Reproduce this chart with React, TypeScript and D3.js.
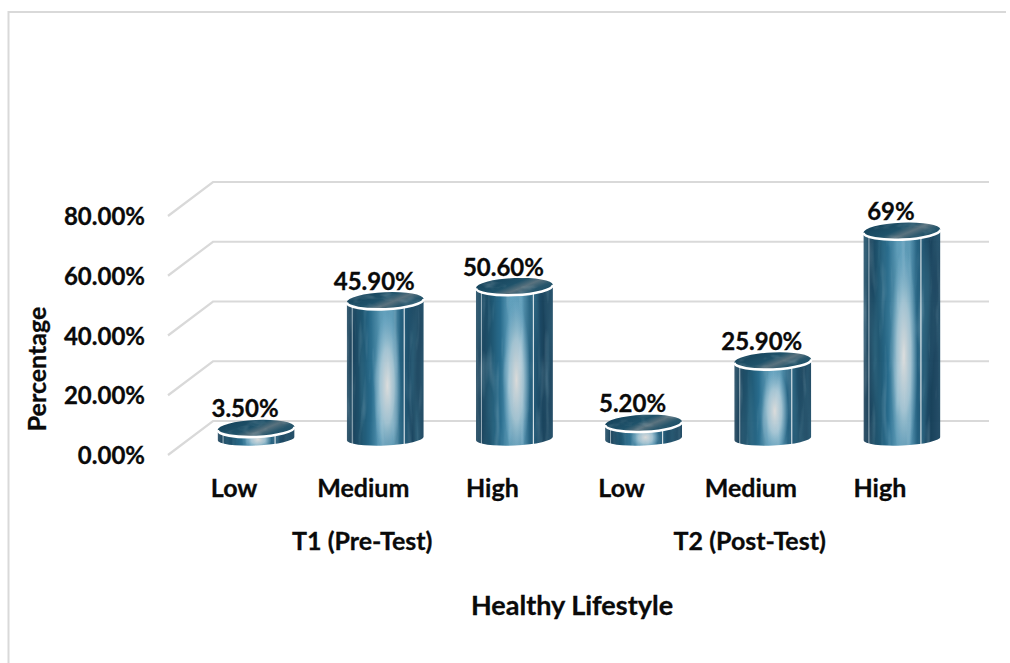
import React from "react";
import * as d3 from "d3";

const categories = ["Low", "Medium", "High", "Low", "Medium", "High"];
const groups = ["T1 (Pre-Test)", "T2 (Post-Test)"];
const values = [3.5, 45.9, 50.6, 5.2, 25.9, 69];
const valueLabels = ["3.50%", "45.90%", "50.60%", "5.20%", "25.90%", "69%"];
const ticks = [0, 20, 40, 60, 80];

const W = 1010;
const H = 663;
const FONT = "Lato, 'Open Sans', sans-serif";
const TEXT = "#0a0a0a";

// Plot floor and wall, the wall being offset up and to the right of the front edge
const depthX = 45;
const depthY = 34;
const frontX = 168;
const rightX = 989;
const y = d3.scaleLinear().domain([0, 80]).range([439, 198]);
const tickY = d3.scaleLinear().domain([0, 80]).range([455, 216]);
const x = d3.scaleBand<number>().domain(d3.range(6)).range([191.5, 966.5]);

const RX = 38.5;
const RY = 8.5;
const BASE_RY = 7;
const TILT = -2.5;
const RISE = 1.7;

// Side wall of a cylinder whose end caps lean slightly up to the right
function sidePath(cx: number, top: number, base: number) {
  return (
    `M${cx - RX},${top + RISE} L${cx - RX},${base + RISE} ` +
    `A${RX},${BASE_RY} ${TILT} 0 0 ${cx + RX},${base - RISE} L${cx + RX},${top - RISE} Z`
  );
}

function frontArc(cx: number, top: number) {
  return `M${cx - RX},${top} A${RX},${RY} 0 0 0 ${cx + RX},${top}`;
}

export default function App() {
  return (
    <svg
      width={W}
      height={H}
      viewBox={`0 0 ${W} ${H}`}
      style={{ position: "absolute", left: 0, top: 0, background: "#fff" }}
    >
      <defs>
        <linearGradient id="metal" x1="0" x2="1" y1="0" y2="0">
          <stop offset="0" stopColor="#34556b" />
          <stop offset="0.06" stopColor="#143c55" />
          <stop offset="0.2" stopColor="#17506c" />
          <stop offset="0.32" stopColor="#22688a" />
          <stop offset="0.44" stopColor="#5f9fbc" />
          <stop offset="0.6" stopColor="#5a99b6" />
          <stop offset="0.7" stopColor="#1e5c7c" />
          <stop offset="0.88" stopColor="#123c56" />
          <stop offset="1" stopColor="#1f4a64" />
        </linearGradient>
        <radialGradient id="glow" cx="0.5" cy="0.52" r="0.5">
          <stop offset="0" stopColor="#dedcda" stopOpacity="0.97" />
          <stop offset="0.5" stopColor="#c0d4dd" stopOpacity="0.7" />
          <stop offset="1" stopColor="#8fbdd3" stopOpacity="0" />
        </radialGradient>
        <linearGradient id="lid" x1="0" x2="1" y1="0.2" y2="0.8">
          <stop offset="0" stopColor="#15425a" />
          <stop offset="0.42" stopColor="#1f526a" />
          <stop offset="0.6" stopColor="#5a727e" />
          <stop offset="0.78" stopColor="#27566c" />
          <stop offset="1" stopColor="#184c65" />
        </linearGradient>
        {/* Long vertical streaks for the brushed finish */}
        <filter id="streaks" x="0" y="0" width="100%" height="100%">
          <feTurbulence type="fractalNoise" baseFrequency="0.16 0.02" numOctaves={2} seed={4} />
          <feColorMatrix
            type="matrix"
            values="0 0 0 0 0.75  0 0 0 0 0.88  0 0 0 0 0.95  2 0 0 0 -1.05"
          />
        </filter>
        <filter id="darkStreaks" x="0" y="0" width="100%" height="100%">
          <feTurbulence type="fractalNoise" baseFrequency="0.1 0.008" numOctaves={2} seed={11} />
          <feColorMatrix
            type="matrix"
            values="0 0 0 0 0.05  0 0 0 0 0.2  0 0 0 0 0.3  0 2.2 0 0 -0.9"
          />
        </filter>
        <filter id="lidNoise" x="0" y="0" width="100%" height="100%">
          <feTurbulence type="fractalNoise" baseFrequency="0.06 0.14" numOctaves={3} seed={7} />
          <feColorMatrix
            type="matrix"
            values="0 0 0 0 0.45  0 0 0 0 0.55  0 0 0 0 0.6  2 0 0 0 -1.0"
          />
        </filter>
        {values.map((v, i) => {
          const cx = x(i)! + x.bandwidth() / 2;
          return (
            <React.Fragment key={i}>
              <clipPath id={`side-${i}`}>
                <path d={sidePath(cx, y(v), y(0) - 0.5)} />
              </clipPath>
              <clipPath id={`cap-${i}`}>
                <ellipse cx={cx} cy={y(v)} rx={RX} ry={RY} />
              </clipPath>
            </React.Fragment>
          );
        })}
      </defs>

      {/* Only the top and left edges of the chart border fall inside the page */}
      <path d={`M8.5,${H} L8.5,12 L1006,12`} fill="none" stroke="#d9d9d9" strokeWidth={2} />

      {/* Wall and side gridlines */}
      <g fill="none" stroke="#d9d9d9" strokeWidth={2.2}>
        {ticks.map((t) => (
          <path
            key={t}
            d={`M${frontX},${tickY(t)} L${frontX + depthX},${tickY(t) - depthY} L${rightX},${tickY(t) - depthY}`}
          />
        ))}
      </g>

      <g fontFamily={FONT} fontWeight={700} fontSize={24} fill={TEXT} stroke={TEXT} strokeWidth={0.3}>
        {ticks.map((t) => (
          <text key={t} x={145} y={tickY(t) + 9} textAnchor="end">
            {d3.format(".2f")(t)}%
          </text>
        ))}
      </g>

      {/* Cylinders */}
      {values.map((v, i) => {
        const cx = x(i)! + x.bandwidth() / 2;
        const top = y(v);
        const base = y(0);
        const h = base - top + RY;
        const left = cx - RX;
        return (
          <g key={i}>
            <g clipPath={`url(#side-${i})`} opacity={0.97}>
              <rect x={left} y={top - RY} width={RX * 2} height={h + RY} fill="url(#metal)" />
              <rect x={left} y={top} width={RX * 2} height={h} filter="url(#darkStreaks)" opacity={0.45} />
              <ellipse cx={cx + 2} cy={top + h * 0.56} rx={RX * 0.36} ry={h * 0.5} fill="url(#glow)" />
              <rect x={left} y={top} width={RX * 2} height={h} filter="url(#streaks)" opacity={0.25} />
              <line x1={left + 5.5} x2={left + 5.5} y1={top} y2={base + RY} stroke="#e8f0f4" strokeWidth={1} opacity={0.65} />
              <line x1={left + 57.5} x2={left + 57.5} y1={top} y2={base + RY} stroke="#f2f6f8" strokeWidth={1.2} opacity={0.85} />
            </g>
            <g transform={`rotate(${TILT} ${cx} ${top})`}>
              <ellipse cx={cx} cy={top} rx={RX} ry={RY} fill="url(#lid)" />
              <rect
                x={left}
                y={top - RY}
                width={RX * 2}
                height={RY * 2}
                clipPath={`url(#cap-${i})`}
                filter="url(#lidNoise)"
                opacity={0.35}
              />
              <path d={frontArc(cx, top)} fill="none" stroke="#fff" strokeWidth={2.6} />
            </g>
          </g>
        );
      })}

      {/* Value labels */}
      <g fontFamily={FONT} fontWeight={700} fontSize={24} fill={TEXT} stroke={TEXT} strokeWidth={0.3} textAnchor="middle">
        {values.map((v, i) => (
          <text key={i} x={x(i)! + x.bandwidth() / 2 - 11} y={y(v) - 11}>
            {valueLabels[i]}
          </text>
        ))}
      </g>

      {/* Category axis */}
      <g fontFamily={FONT} fontWeight={700} fontSize={25} fill={TEXT} stroke={TEXT} strokeWidth={0.3} textAnchor="middle">
        {categories.map((c, i) => (
          <text key={i} x={x(i)! + x.bandwidth() / 2 - 22} y={497}>
            {c}
          </text>
        ))}
        {groups.map((g, i) => (
          <text key={g} x={x(i * 3 + 1)! + x.bandwidth() / 2 - 23} y={550}>
            {g}
          </text>
        ))}
      </g>

      <text x={572} y={615} textAnchor="middle" fontFamily={FONT} fontWeight={700} fontSize={27} fill={TEXT} stroke={TEXT} strokeWidth={0.3}>
        Healthy Lifestyle
      </text>
      <text
        transform="translate(46,369) rotate(-90)"
        textAnchor="middle"
        fontFamily={FONT}
        fontWeight={700}
        fontSize={25}
        fill={TEXT}
        stroke={TEXT}
        strokeWidth={0.3}
      >
        Percentage
      </text>
    </svg>
  );
}
